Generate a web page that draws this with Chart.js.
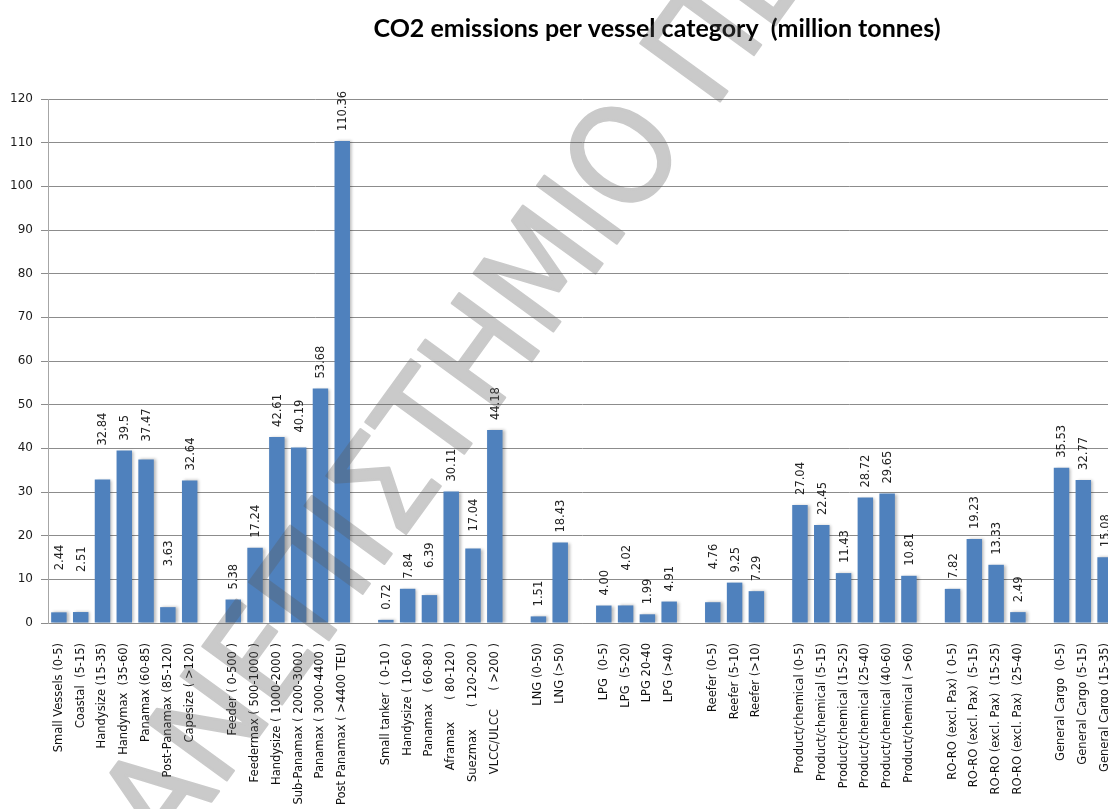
<!DOCTYPE html>
<html>
<head>
<meta charset="utf-8">
<script src="https://cdn.jsdelivr.net/npm/chart.js@4/dist/chart.umd.min.js"></script>
<style>
  html, body { margin: 0; padding: 0; background: #fff; overflow: hidden; width: 1108px; height: 809px; }
  #wrap { position: relative; width: 1120px; height: 809px; }
</style>
</head>
<body>
<div id="wrap"><canvas id="co2" width="1120" height="809"></canvas></div>
<script>
// Vessel categories and their CO2 emissions (million tonnes), one pair of arrays per fleet segment
const bulkNames = ['Small Vessels (0-5)', 'Coastal  (5-15)', 'Handysize (15-35)', 'Handymax  (35-60)', 'Panamax (60-85)', 'Post-Panamax (85-120)', 'Capesize ( >120)'];
const bulkCO2 = ['2.44', '2.51', '32.84', '39.5', '37.47', '3.63', '32.64'];

const containerNames = ['Feeder ( 0-500 )', 'Feedermax ( 500-1000 )', 'Handysize ( 1000-2000 )', 'Sub-Panamax ( 2000-3000 )', 'Panamax ( 3000-4400 )', 'Post Panamax ( >4400 TEU)'];
const containerCO2 = ['5.38', '17.24', '42.61', '40.19', '53.68', '110.36'];

const tankerNames = ['Small tanker  ( 0-10 )', 'Handysize ( 10-60 )', 'Panamax   ( 60-80 )', 'Aframax      ( 80-120 )', 'Suezmax      ( 120-200 )', 'VLCC/ULCC     ( >200 )'];
const tankerCO2 = ['0.72', '7.84', '6.39', '30.11', '17.04', '44.18'];

const lngNames = ['LNG (0-50)', 'LNG (>50)'];
const lngCO2 = ['1.51', '18.43'];

const lpgNames = ['LPG  (0-5)', 'LPG  (5-20)', 'LPG 20-40', 'LPG (>40)'];
const lpgCO2 = ['4.00', '4.02', '1.99', '4.91'];

const reeferNames = ['Reefer (0-5)', 'Reefer (5-10)', 'Reefer (>10)'];
const reeferCO2 = ['4.76', '9.25', '7.29'];

const productNames = ['Product/chemical (0-5)', 'Product/chemical (5-15)', 'Product/chemical (15-25)', 'Product/chemical (25-40)', 'Product/chemical (40-60)', 'Product/chemical ( >60)'];
const productCO2 = ['27.04', '22.45', '11.43', '28.72', '29.65', '10.81'];

const roroNames = ['RO-RO (excl. Pax) ( 0-5)', 'RO-RO (excl. Pax)  (5-15)', 'RO-RO (excl. Pax)  (15-25)', 'RO-RO (excl. Pax)  (25-40)'];
const roroCO2 = ['7.82', '19.23', '13.33', '2.49'];

const cargoNames = ['General Cargo  (0-5)', 'General Cargo (5-15)', 'General Cargo (15-35)'];
const cargoCO2 = ['35.53', '32.77', '15.08'];

const yTicks = [0, 10, 20, 30, 40, 50, 60, 70, 80, 90, 100, 110, 120];

const TITLE = 'CO2 emissions per vessel category  (million tonnes)';
const WATERMARK = 'ΠΑΝΕΠΙΣΤΗΜΙΟ ΠΕΙΡΑΙΩΣ';

// Segments are separated by one empty category slot
const segments = [
  [bulkNames, bulkCO2], [containerNames, containerCO2], [tankerNames, tankerCO2],
  [lngNames, lngCO2], [lpgNames, lpgCO2], [reeferNames, reeferCO2],
  [productNames, productCO2], [roroNames, roroCO2], [cargoNames, cargoCO2]
];
const categories = [];
const valueText = [];
segments.forEach(([names, vals], s) => {
  if (s > 0) { categories.push(''); valueText.push(null); }
  names.forEach((n, i) => { categories.push(n); valueText.push(vals[i]); });
});
const emissions = valueText.map(t => t === null ? null : parseFloat(t));

// Extra lift (px) for the few data labels that sit higher above their bar
const labelLift = { 0: 32, 1: 30, 2: 24, 4: 8, 5: 31, 11: 5, 17: 17, 19: 7, 26: 25, 30: 23 };

const barShadow = {
  id: 'barShadow',
  beforeDatasetsDraw(chart) {
    const c = chart.ctx;
    c.save();
    c.shadowColor = 'rgba(0,0,0,0.28)';
    c.shadowBlur = 3;
    c.shadowOffsetX = 2;
    c.shadowOffsetY = 0;
  },
  afterDatasetsDraw(chart) { chart.ctx.restore(); }
};

const valueLabels = {
  id: 'valueLabels',
  afterDatasetsDraw(chart) {
    const c = chart.ctx;
    const meta = chart.getDatasetMeta(0);
    c.save();
    c.font = '11.5px "DejaVu Sans"';
    c.fillStyle = '#222';
    c.textAlign = 'left';
    c.textBaseline = 'middle';
    meta.data.forEach((bar, i) => {
      if (valueText[i] === null) return;
      const lift = 10 + (labelLift[i] || 0);
      c.save();
      c.translate(bar.x + 1, bar.y - lift);
      c.rotate(-Math.PI / 2);
      c.fillText(valueText[i], 0, 0);
      c.restore();
    });
    c.restore();
  }
};

const chartTitle = {
  id: 'chartTitle',
  afterDraw(chart) {
    const c = chart.ctx;
    c.save();
    c.font = 'bold 25px Lato';
    c.fillStyle = '#000';
    c.textAlign = 'center';
    c.textBaseline = 'alphabetic';
    c.fillText(TITLE, 657, 37);
    c.restore();
  }
};

// Diagonal translucent watermark laid over the whole chart
const watermark = {
  id: 'watermark',
  afterDraw(chart) {
    const c = chart.ctx;
    const layer = document.createElement('canvas');
    layer.width = chart.width;
    layer.height = chart.height;
    const w = layer.getContext('2d');
    w.font = '135px "DejaVu Sans"';
    w.fillStyle = '#5a5a5a';
    w.strokeStyle = '#5a5a5a';
    w.lineWidth = 2.5;
    w.lineJoin = 'round';
    w.textBaseline = 'middle';
    w.translate(632, 163);
    w.rotate(-54 * Math.PI / 180);
    w.scale(0.93, 1);
    const lead = w.measureText('ΠΑΝΕΠΙΣΤΗΜΙ').width + w.measureText('Ο').width / 2;
    w.fillText(WATERMARK, -lead, 0);
    w.strokeText(WATERMARK, -lead, 0);
    c.save();
    c.setTransform(1, 0, 0, 1, 0, 0);
    c.globalAlpha = 0.32;
    c.drawImage(layer, 0, 0);
    c.restore();
  }
};

new Chart(document.getElementById('co2'), {
  type: 'bar',
  data: {
    labels: categories,
    datasets: [{
      data: emissions,
      backgroundColor: '#4F81BD',
      borderWidth: 0,
      barPercentage: 0.71,
      categoryPercentage: 1
    }]
  },
  options: {
    responsive: false,
    animation: false,
    devicePixelRatio: 1,
    layout: { padding: { top: 99, right: 4, left: 0, bottom: 0 } },
    plugins: { legend: { display: false }, tooltip: { enabled: false }, title: { display: false } },
    scales: {
      x: {
        grid: { display: false, drawTicks: false },
        border: { display: true, color: '#8c8c8c' },
        ticks: {
          autoSkip: false, maxRotation: 90, minRotation: 90, padding: 20,
          font: { family: 'DejaVu Sans', size: 11.5 }, color: '#111'
        },
        afterFit(s) { s.height = 186; s.paddingLeft = 0; s.paddingRight = 0; }
      },
      y: {
        min: yTicks[0], max: yTicks[yTicks.length - 1],
        afterBuildTicks(s) { s.ticks = yTicks.map(v => ({ value: v })); },
        ticks: { padding: 8, font: { family: 'DejaVu Sans', size: 12 }, color: '#1a1a1a' },
        grid: { color: '#8c8c8c', tickLength: 7, drawTicks: true },
        border: { color: '#a6a6a6' },
        afterFit(s) { s.width = 48; }
      }
    }
  },
  plugins: [barShadow, valueLabels, chartTitle, watermark]
});
</script>
</body>
</html>
